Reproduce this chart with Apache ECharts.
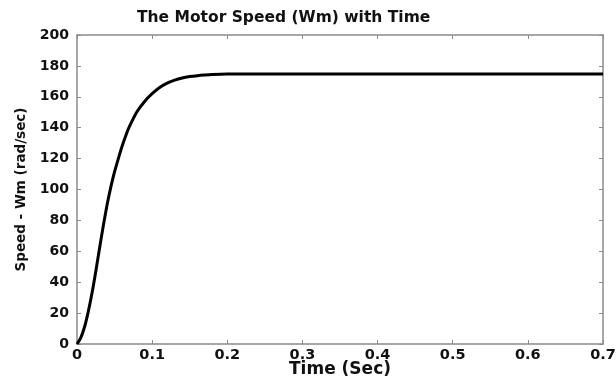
<!DOCTYPE html>
<html>
<head>
<meta charset="utf-8">
<script src="https://cdn.jsdelivr.net/npm/echarts@6/dist/echarts.min.js"></script>
<style>
  html, body { margin: 0; padding: 0; background: #fff; }
  #main { width: 616px; height: 383px; }
</style>
</head>
<body>
<div id="main"></div>
<script>
// time (sec) and motor speed Wm (rad/sec)
const timeSec = [0, 0.005, 0.01, 0.015, 0.02, 0.025, 0.03, 0.035, 0.04, 0.045, 0.05, 0.055, 0.06, 0.065, 0.07,
                 0.08, 0.09, 0.1, 0.11, 0.12, 0.13, 0.14, 0.15, 0.16, 0.17, 0.18, 0.2, 0.25, 0.3, 0.4, 0.5, 0.6, 0.7];
const speedWm = [0, 4, 11, 21, 33, 47, 62, 76.5, 90, 101.5, 111.5, 120, 128, 135, 141,
                 150.5, 157, 162, 166, 168.8, 170.8, 172.2, 173.1, 173.7, 174.1, 174.4, 174.7, 174.8, 174.8, 174.8, 174.8, 174.8, 174.8];

const titleText = 'The Motor Speed (Wm) with Time';
const xName = 'Time (Sec)';
const yName = 'Speed - Wm (rad/sec)';

const points = timeSec.map((t, i) => [t, speedWm[i]]);

const font = 'DejaVu Sans, Verdana, sans-serif';
const axisGrey = '#8a8a8a';

let chart = echarts.init(document.getElementById('main'));
let option = {
    animation: false,
    title: {
        text: titleText,
        left: 132,
        top: 5,
        textStyle: { fontFamily: font, fontWeight: 'bold', fontSize: 15.5, color: '#111' }
    },
    grid: { left: 77, right: 13, top: 35, bottom: 39, containLabel: false, outerBoundsMode: 'none' },
    xAxis: [
        {
            type: 'value', min: 0, max: 0.7, interval: 0.1, position: 'bottom',
            name: xName, nameLocation: 'middle', nameGap: 17, nameMoveOverlap: false,
            nameTextStyle: { fontFamily: font, fontWeight: 'bold', fontSize: 17, color: '#111' },
            axisLine: { onZero: false, lineStyle: { color: axisGrey, width: 1.5 } },
            axisTick: { inside: true, length: 4, lineStyle: { color: axisGrey } },
            axisLabel: { fontFamily: font, fontWeight: 'bold', fontSize: 14.5, color: '#111', margin: 4,
                         formatter: v => String(+v.toFixed(1)) },
            splitLine: { show: false }
        },
        {
            type: 'value', min: 0, max: 0.7, interval: 0.1, position: 'top',
            axisLine: { onZero: false, lineStyle: { color: axisGrey, width: 1.5 } },
            axisTick: { inside: true, length: 4, lineStyle: { color: axisGrey } },
            axisLabel: { show: false },
            splitLine: { show: false }
        }
    ],
    yAxis: [
        {
            type: 'value', min: 0, max: 200, interval: 20, position: 'left',
            name: yName, nameLocation: 'middle', nameGap: 49, nameRotate: 90, nameMoveOverlap: false,
            nameTextStyle: { fontFamily: font, fontWeight: 'bold', fontSize: 13.5, color: '#111' },
            axisLine: { show: true, onZero: false, lineStyle: { color: axisGrey, width: 1.5 } },
            axisTick: { show: true, inside: true, length: 4, lineStyle: { color: axisGrey } },
            axisLabel: { fontFamily: font, fontWeight: 'bold', fontSize: 14, color: '#111', margin: 8 },
            splitLine: { show: false }
        },
        {
            type: 'value', min: 0, max: 200, interval: 20, position: 'right',
            axisLine: { show: true, onZero: false, lineStyle: { color: axisGrey, width: 1.5 } },
            axisTick: { show: true, inside: true, length: 4, lineStyle: { color: axisGrey } },
            axisLabel: { show: false },
            splitLine: { show: false }
        }
    ],
    series: [
        {
            type: 'line',
            data: points,
            smooth: 0.3,
            showSymbol: false,
            lineStyle: { color: '#000', width: 3 }
        }
    ]
};
chart.setOption(option);
</script>
</body>
</html>
